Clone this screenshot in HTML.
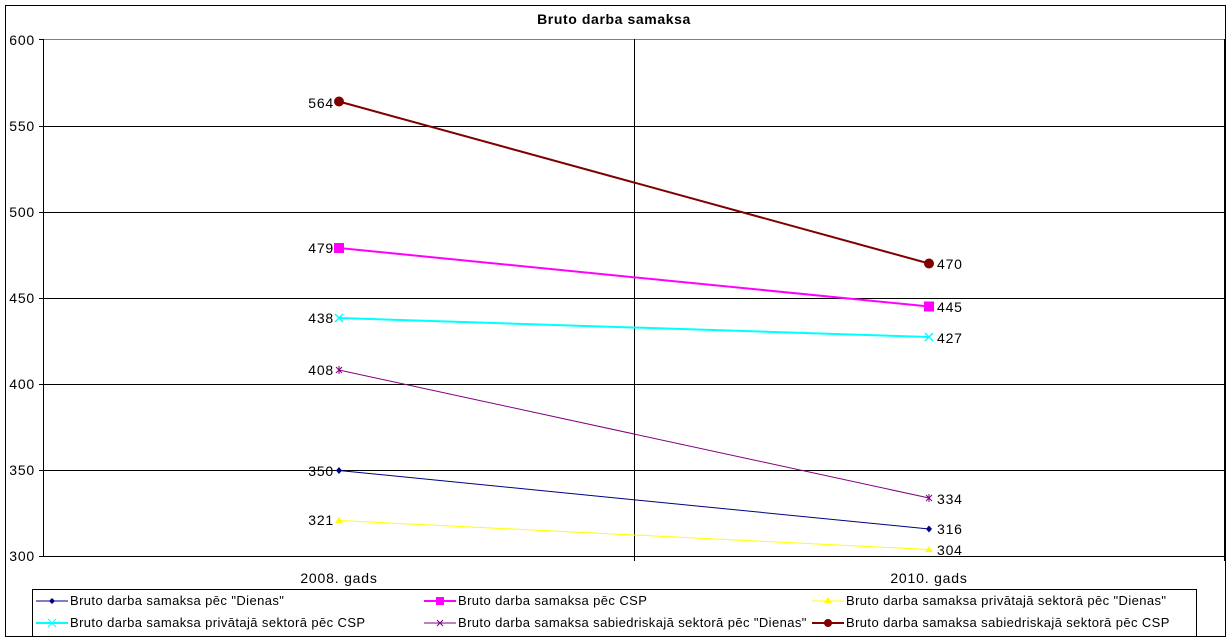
<!DOCTYPE html>
<html><head><meta charset="utf-8"><style>
html,body{margin:0;padding:0;background:#fff;}
svg{display:block;font-family:"Liberation Sans",Arial,sans-serif;}
</style></head><body>
<svg width="1229" height="641" viewBox="0 0 1229 641" xmlns="http://www.w3.org/2000/svg">
<rect x="5.5" y="5.5" width="1220" height="631" fill="#fff" stroke="#000" stroke-width="1"/>
<text x="614" y="24" font-size="14" letter-spacing="0.6" font-weight="bold" text-anchor="middle">Bruto darba samaksa</text>
<line x1="43" y1="39.5" x2="1224" y2="39.5" stroke="#808080"/>
<g stroke="#000" stroke-width="1">
<line x1="39" y1="126.5" x2="1224" y2="126.5"/>
<line x1="39" y1="212.5" x2="1224" y2="212.5"/>
<line x1="39" y1="298.5" x2="1224" y2="298.5"/>
<line x1="39" y1="384.5" x2="1224" y2="384.5"/>
<line x1="39" y1="470.5" x2="1224" y2="470.5"/>
<line x1="39" y1="556.5" x2="1224" y2="556.5"/>
<line x1="39" y1="39.5" x2="43" y2="39.5"/>
<line x1="43.5" y1="39" x2="43.5" y2="557"/>
<line x1="634.5" y1="39" x2="634.5" y2="561"/>
<line x1="1224.5" y1="39" x2="1224.5" y2="561"/>
</g>
<g font-size="14" letter-spacing="0.8" text-anchor="end">
<text x="35" y="45">600</text><text x="35" y="131">550</text><text x="35" y="217">500</text>
<text x="35" y="303">450</text><text x="35" y="389">400</text><text x="35" y="475">350</text><text x="35" y="561">300</text>
</g>
<g font-size="14" letter-spacing="0.8" text-anchor="middle">
<text x="339" y="583">2008. gads</text><text x="929" y="583">2010. gads</text>
</g>
<line x1="339" y1="470.5" x2="929" y2="529" stroke="#000080" stroke-width="1"/>
<line x1="339" y1="248" x2="929" y2="306.5" stroke="#ff00ff" stroke-width="2"/>
<line x1="339" y1="520.5" x2="929" y2="549.5" stroke="#ffff00" stroke-width="1"/>
<line x1="339" y1="318" x2="929" y2="337" stroke="#00ffff" stroke-width="2"/>
<line x1="339" y1="370" x2="929" y2="498" stroke="#800080" stroke-width="1"/>
<line x1="339" y1="101.5" x2="929" y2="263.5" stroke="#800000" stroke-width="2"/>
<g fill="#000080"><polygon points="339,467 342,470.5 339,474 336,470.5"/><polygon points="929,525.5 932,529 929,532.5 926,529"/></g>
<g fill="#ff00ff"><rect x="334" y="243" width="10" height="10"/><rect x="924" y="301.5" width="10" height="10"/></g>
<g fill="#ffff00"><polygon points="339,517 343,523 335,523"/><polygon points="929,546 933,552 925,552"/></g>
<g stroke="#00ffff" stroke-width="1.5"><path d="M335,314l8,8M343,314l-8,8"/><path d="M925,333l8,8M933,333l-8,8"/></g>
<g stroke="#800080" stroke-width="1"><path d="M336,367l6,6M342,367l-6,6M339,366v8"/><path d="M926,495l6,6M932,495l-6,6M929,494v8"/></g>
<g fill="#800000"><circle cx="339" cy="101.5" r="5"/><circle cx="929" cy="263.5" r="5"/></g>
<g font-size="14" letter-spacing="0.8" text-anchor="end">
<text x="334" y="108">564</text><text x="334" y="253">479</text><text x="334" y="323">438</text>
<text x="334" y="375">408</text><text x="334" y="476">350</text><text x="334" y="525">321</text>
</g>
<g font-size="14" letter-spacing="0.8">
<text x="937" y="269">470</text><text x="937" y="312">445</text><text x="937" y="343">427</text>
<text x="937" y="504">334</text><text x="937" y="534">316</text><text x="937" y="555">304</text>
</g>
<rect x="32.5" y="589.5" width="1164" height="47" fill="#fff" stroke="#000"/>
<g font-size="13" letter-spacing="0.4">
<line x1="36" y1="601" x2="68" y2="601" stroke="#000080"/><polygon points="52,598 55,601 52,604 49,601" fill="#000080"/>
<text x="70" y="605">Bruto darba samaksa pēc "Dienas"</text>
<line x1="424" y1="601" x2="456" y2="601" stroke="#ff00ff" stroke-width="2"/><rect x="436" y="597" width="8" height="8" fill="#ff00ff"/>
<text x="458" y="605">Bruto darba samaksa pēc CSP</text>
<line x1="812" y1="601" x2="844" y2="601" stroke="#ffff00"/><polygon points="828,597 832,603 824,603" fill="#ffff00"/>
<text x="846" y="605">Bruto darba samaksa privātajā sektorā pēc "Dienas"</text>
<line x1="36" y1="623" x2="68" y2="623" stroke="#00ffff" stroke-width="2"/><path d="M48,619l8,8M56,619l-8,8" stroke="#00ffff"/>
<text x="70" y="627">Bruto darba samaksa privātajā sektorā pēc CSP</text>
<line x1="424" y1="623" x2="456" y2="623" stroke="#800080"/><path d="M437,620l6,6M443,620l-6,6" stroke="#800080"/>
<text x="458" y="627">Bruto darba samaksa sabiedriskajā sektorā pēc "Dienas"</text>
<line x1="812" y1="623" x2="844" y2="623" stroke="#800000" stroke-width="2"/><circle cx="828" cy="623" r="4" fill="#800000"/>
<text x="846" y="627">Bruto darba samaksa sabiedriskajā sektorā pēc CSP</text>
</g>
</svg>
</body></html>
